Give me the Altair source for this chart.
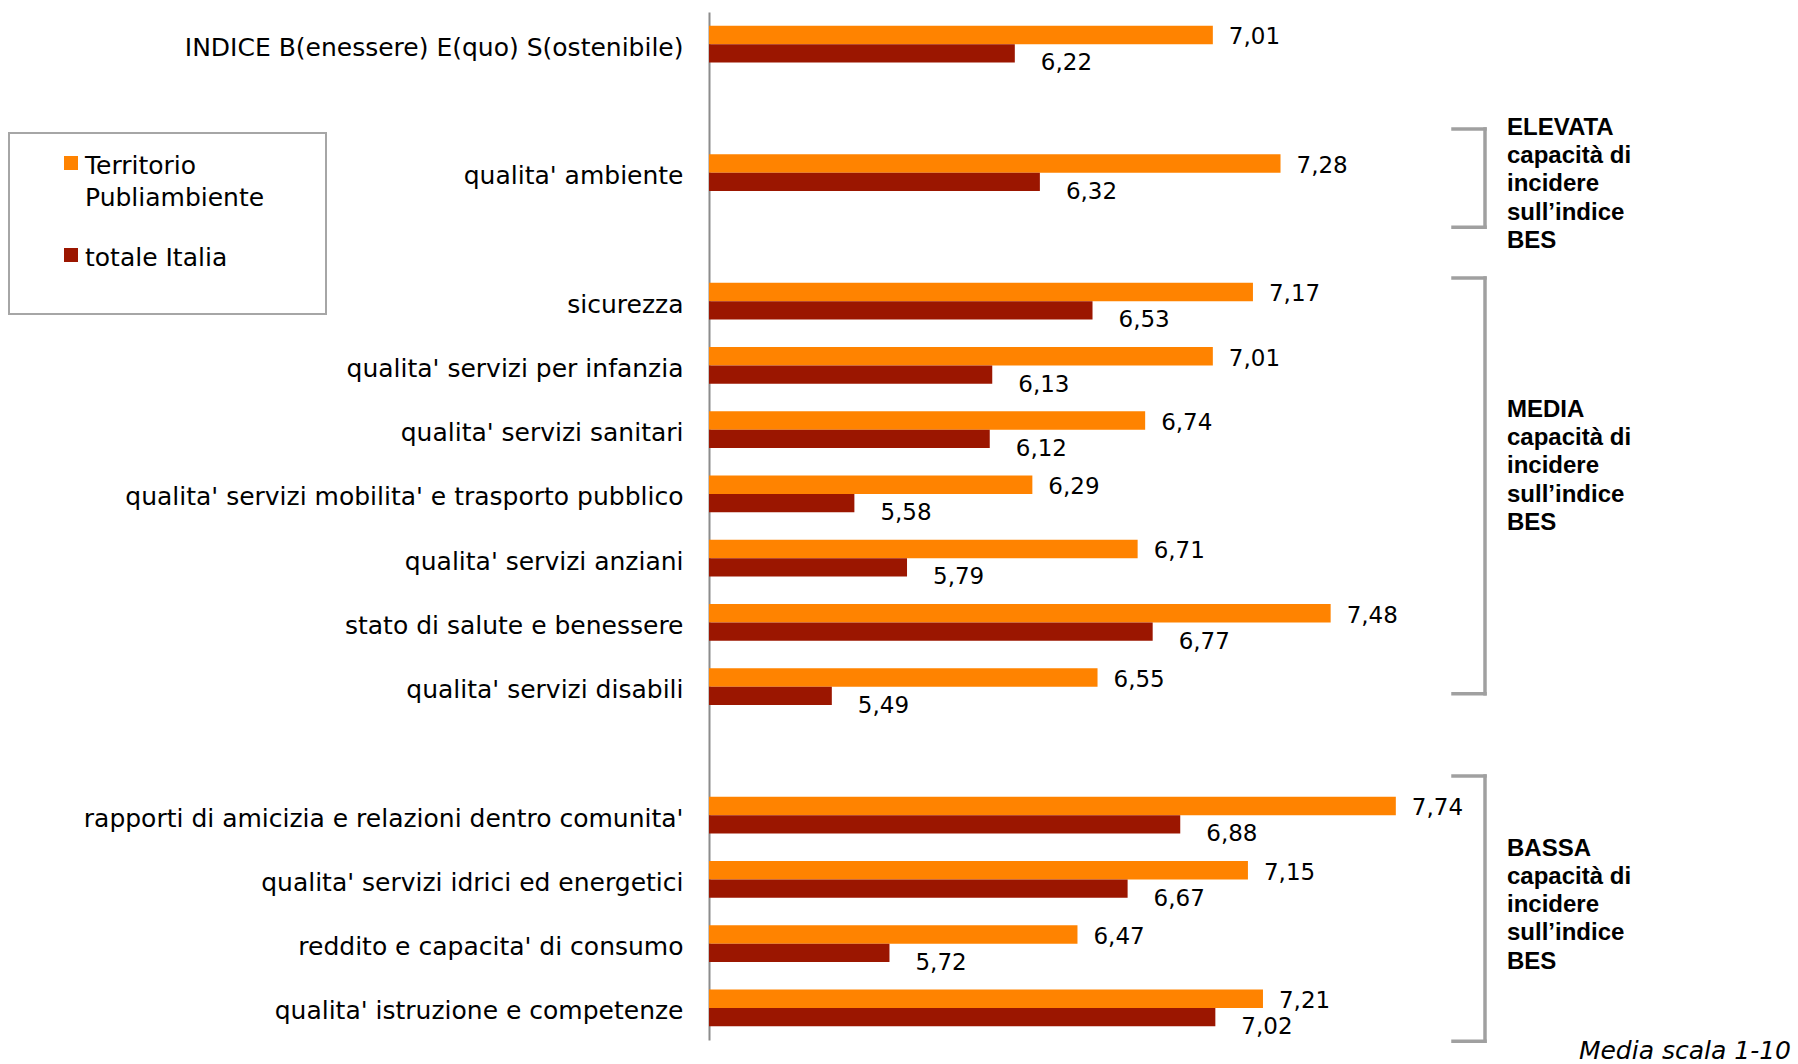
import altair as alt
import pandas as pd

# ---------------- data ----------------
categorie = [
    "INDICE B(enessere) E(quo) S(ostenibile)",
    "qualita' ambiente",
    "sicurezza",
    "qualita' servizi per infanzia",
    "qualita' servizi sanitari",
    "qualita' servizi mobilita' e trasporto pubblico",
    "qualita' servizi anziani",
    "stato di salute e benessere",
    "qualita' servizi disabili",
    "rapporti di amicizia e relazioni dentro comunita'",
    "qualita' servizi idrici ed energetici",
    "reddito e capacita' di consumo",
    "qualita' istruzione e competenze",
]
territorio = [7.01, 7.28, 7.17, 7.01, 6.74, 6.29, 6.71, 7.48, 6.55, 7.74, 7.15, 6.47, 7.21]
italia = [6.22, 6.32, 6.53, 6.13, 6.12, 5.58, 5.79, 6.77, 5.49, 6.88, 6.67, 5.72, 7.02]
serie = ["Territorio Publiambiente", "totale Italia"]
etichette_legenda = ["Territorio\nPubliambiente", "totale Italia"]
colori = ["#FF8300", "#9B1600"]

# axis order with empty separator rows
ordine_asse = ([categorie[0], " ", categorie[1], "  "] + categorie[2:9] + ["   "] + categorie[9:])

gruppi = ["ELEVATA\ncapacità di\nincidere\nsull’indice\nBES",
          "MEDIA\ncapacità di\nincidere\nsull’indice\nBES",
          "BASSA\ncapacità di\nincidere\nsull’indice\nBES"]
# bracket extents, in row-index units of the category axis
parentesi_inizio = [1.32, 3.64, 11.39]
parentesi_fine = [2.85, 10.11, 15.52]
testo_riga = [1.41, 5.80, 12.63]
nota = "Media scala 1-10"

rows = []
for c, t, i in zip(categorie, territorio, italia):
    rows.append({"categoria": c, "serie": serie[0], "valore": t})
    rows.append({"categoria": c, "serie": serie[1], "valore": i})
df = pd.DataFrame(rows)
df["etichetta"] = df["valore"].map(lambda v: f"{v:.2f}".replace(".", ","))

df_par = pd.DataFrame({"gruppo": gruppi, "inizio": parentesi_inizio,
                       "fine": parentesi_fine, "riga": testo_riga})

FONT = "DejaVu Sans"
W, H = 752, 1028

y_scale = alt.Scale(domain=ordine_asse, paddingInner=0.43, paddingOuter=0.215)
y_axis = alt.Y("categoria:N", scale=y_scale, sort=None,
               axis=alt.Axis(title=None, ticks=False, labelFont=FONT, labelFontSize=25,
                             labelColor="black", labelPadding=26, labelLimit=900,
                             labelOffset=3.5,
                             domainColor="#8C8C8C", domainWidth=2, grid=False))
y_noaxis = alt.Y("categoria:N", scale=y_scale, sort=None, axis=None)
yoff = alt.YOffset("serie:N", scale=alt.Scale(domain=serie, paddingInner=0, paddingOuter=0))
x_enc = alt.X("valore:Q", scale=alt.Scale(domain=[5, 8], zero=False, nice=False), axis=None)
col = alt.Color("serie:N", scale=alt.Scale(domain=serie, range=colori), legend=None)

bars = alt.Chart(df).mark_bar().encode(
    y=y_axis, yOffset=yoff, x=x_enc, x2=alt.datum(5), color=col)

lab_t = alt.Chart(df[df["serie"] == serie[0]]).mark_text(
    align="left", baseline="middle", dx=16, dy=2.5, font=FONT, fontSize=23, color="black"
).encode(y=y_noaxis, yOffset=yoff, x=x_enc, text="etichetta:N")

lab_i = alt.Chart(df[df["serie"] == serie[1]]).mark_text(
    align="left", baseline="middle", dx=26, dy=10, font=FONT, fontSize=23, color="black"
).encode(y=y_noaxis, yOffset=yoff, x=x_enc, text="etichetta:N")

yq = alt.Scale(domain=[-0.5, 15.5], reverse=True, nice=False, zero=False)

par_v = alt.Chart(df_par).mark_rule(color="#A0A0A0", strokeWidth=3.5, strokeCap="square").encode(
    x=alt.value(776), y=alt.Y("inizio:Q", scale=yq, axis=None), y2="fine:Q")
par_top = alt.Chart(df_par).mark_rule(color="#A0A0A0", strokeWidth=3.5, strokeCap="square").encode(
    x=alt.value(744), x2=alt.value(776), y=alt.Y("inizio:Q", scale=yq, axis=None))
par_bot = alt.Chart(df_par).mark_rule(color="#A0A0A0", strokeWidth=3.5, strokeCap="square").encode(
    x=alt.value(744), x2=alt.value(776), y=alt.Y("fine:Q", scale=yq, axis=None))
par_txt = alt.Chart(df_par).mark_text(
    align="left", baseline="alphabetic", lineBreak="\n", font="Liberation Sans",
    fontWeight="bold", fontSize=24, lineHeight=28.3, color="black"
).encode(x=alt.value(798), y=alt.Y("riga:Q", scale=yq, axis=None), text="gruppo:N")

one = pd.DataFrame({"k": [0]})
leg_box = alt.Chart(one).mark_rect(fill="white", stroke="#A6A6A6", strokeWidth=2).encode(
    x=alt.value(-700), x2=alt.value(-383), y=alt.value(121), y2=alt.value(302))

leg_parts = []
for idx, ypos in zip(range(2), [151, 243]):
    d = pd.DataFrame({"serie": [serie[idx]], "nome": [etichette_legenda[idx]]})
    leg_parts.append(alt.Chart(d).mark_square(size=196, opacity=1).encode(
        x=alt.value(-638), y=alt.value(ypos), color=col))
    leg_parts.append(alt.Chart(d).mark_text(
        align="left", baseline="middle", lineBreak="\n", font=FONT, fontSize=25,
        lineHeight=32, color="black", dy=2.5).encode(
        x=alt.value(-624), y=alt.value(ypos), text="nome:N"))

nota_txt = alt.Chart(pd.DataFrame({"t": [nota]})).mark_text(
    align="right", baseline="middle", font=FONT, fontStyle="italic", fontSize=25, color="black"
).encode(x=alt.value(1082), y=alt.value(1039), text="t:N")

chart = alt.layer(
    bars, lab_t, lab_i, par_v, par_top, par_bot, par_txt, leg_box, *leg_parts, nota_txt
).resolve_scale(y="independent").properties(
    width=W, height=H,
    background="white",
    autosize=alt.AutoSizeParams(type="none"),
    padding={"left": 709, "top": 12, "right": 337, "bottom": 24},
).configure_view(stroke=None)

chart.save("out.html", embed_options={"renderer": "svg", "actions": False})
